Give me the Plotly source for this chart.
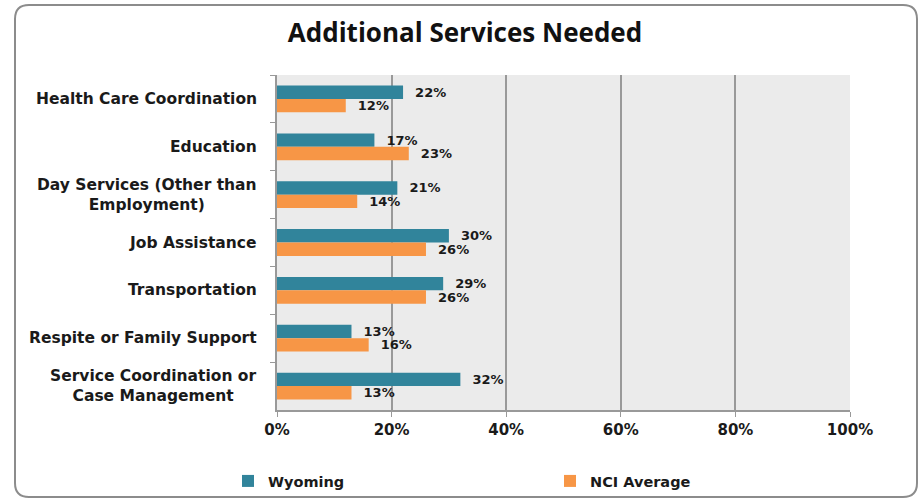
import plotly.graph_objects as go

categories = ["Health Care Coordination", "Education", "Day Services (Other than<br>Employment)",
              "Job Assistance", "Transportation", "Respite or Family Support",
              "Service Coordination or<br>Case Management"]
wyoming = [22, 17, 21, 30, 29, 13, 32]
nci = [12, 23, 14, 26, 26, 16, 13]
x_ticks = [0, 20, 40, 60, 80, 100]
x_tick_labels = ["0%", "20%", "40%", "60%", "80%", "100%"]

W, H = 924, 500
L, R, T, B = 277, 74, 75, 90
FONT = "DejaVu Sans"

fig = go.Figure()
for name, vals, col in [("Wyoming", wyoming, "#31849B"), ("NCI Average", nci, "#F79646")]:
    fig.add_trace(go.Bar(y=categories, x=vals, orientation="h", name="<b>%s</b>" % name,
                         marker=dict(color=col, line=dict(width=0)),
                         text=["<b>  %d%%</b>" % v for v in vals], textposition="outside",
                         constraintext="none",
                         textfont=dict(family=FONT, size=13, color="#1a1a1a"),
                         cliponaxis=False))

for c in categories:
    fig.add_annotation(x=0, xref="x domain", y=c, yref="y", text="<b>%s</b>" % c,
                       showarrow=False, xanchor="right", align="center", xshift=-18,
                       font=dict(family=FONT, size=15.5, color="#1a1a1a"))

# rounded border around chart area (pixel -> paper conversion)
pw, ph = W - L - R, H - T - B
def px(x): return (x - L) / pw
def py(y): return (H - B - y) / ph
x0, x1, y0, y1, r = 15, 917, 5, 497, 14
path = ("M {a},{b} L {c},{b} Q {d},{b} {d},{e} L {d},{f} Q {d},{g} {c},{g} "
        "L {a},{g} Q {h},{g} {h},{f} L {h},{e} Q {h},{b} {a},{b} Z").format(
    a=px(x0 + r), b=py(y0), c=px(x1 - r), d=px(x1), e=py(y0 + r), f=py(y1 - r),
    g=py(y1), h=px(x0))
fig.add_shape(type="path", xref="paper", yref="paper", path=path,
              line=dict(color="#8c8c8c", width=2), fillcolor="rgba(0,0,0,0)", layer="below")

fig.update_layout(
    width=W, height=H,
    margin=dict(l=L, r=R, t=T, b=B, autoexpand=False),
    paper_bgcolor="white", plot_bgcolor="#EBEBEB",
    title=dict(text="<b>Additional Services Needed</b>", x=(465 - L) / pw, xref="paper",
               xanchor="center", y=1 - 33 / H, yanchor="middle",
               font=dict(family="Open Sans", size=26, color="#111")),
    barmode="group", bargap=0.44, bargroupgap=0,
    xaxis=dict(range=[0, 100], tickvals=x_ticks, ticktext=["<b>%s</b>" % t for t in x_tick_labels],
               showgrid=True, gridcolor="#999999", gridwidth=1.5,
               showline=True, linecolor="#999999", linewidth=1.5,
               ticks="outside", ticklen=5, tickcolor="#999999",
               tickfont=dict(family=FONT, size=15, color="#1a1a1a"),
               zeroline=False, fixedrange=True),
    yaxis=dict(autorange="reversed", showticklabels=False, tickson="boundaries",
               ticks="outside", ticklen=5, tickcolor="#999999",
               showline=True, linecolor="#999999", linewidth=1.5, showgrid=False),
    legend=dict(orientation="h", x=(228 - L) / pw, xanchor="left", y=-(481 - (H - B)) / ph,
                yanchor="middle", entrywidth=277, entrywidthmode="pixels",
                bgcolor="rgba(0,0,0,0)",
                font=dict(family=FONT, size=14.5, color="#1a1a1a"),
                itemsizing="constant", traceorder="normal"),
    showlegend=True,
)

fig.write_html("out.html", config={"displayModeBar": False},
               post_script="document.body.style.margin='0';")
